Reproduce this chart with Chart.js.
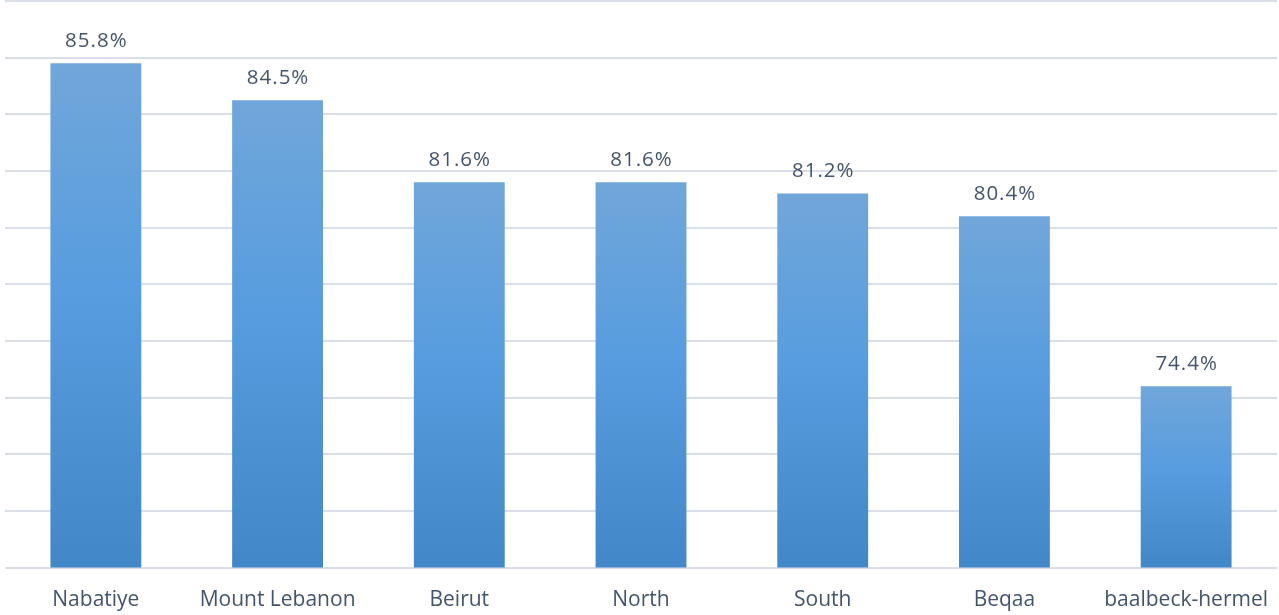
<!DOCTYPE html>
<html>
<head>
<meta charset="utf-8">
<script src="https://cdn.jsdelivr.net/npm/chart.js@4.4.1/dist/chart.umd.min.js"></script>
<style>
    html, body { margin: 0; padding: 0; background: #ffffff; overflow: hidden; }
    canvas { display: block; }
</style>
</head>
<body>
<canvas id="chart" width="1279" height="615"></canvas>
<script>
// Regions and their rates (%)
const regions = ['Nabatiye', 'Mount Lebanon', 'Beirut', 'North', 'South', 'Beqaa', 'baalbeck-hermel'];
const rates = [85.8, 84.5, 81.6, 81.6, 81.2, 80.4, 74.4];

// Value axis range, labels are not shown
const axisMin = 68;
const axisMax = 88;
const axisStep = 2;

const textColor = '#44546a';
const fontFamily = '"Open Sans", "Liberation Sans", sans-serif';

// Each bar gets its own vertical gradient, light on top and deeper at the base
function barGradient(ctx) {

    const chart = ctx.chart;
    const area = chart.chartArea;
    if (!area || ctx.raw === undefined) return '#5b9bd5';

    const y = chart.scales.y;
    const top = y.getPixelForValue(ctx.raw);
    const bottom = y.getPixelForValue(axisMin);

    let gradient = chart.ctx.createLinearGradient(0, top, 0, bottom);
    gradient.addColorStop(0, '#71a6da');
    gradient.addColorStop(0.45, '#579ddf');
    gradient.addColorStop(1, '#4288c8');

    return gradient;

}

// Writes the percentage above each bar
const valueLabels = {
    id: 'valueLabels',
    afterDatasetsDraw(chart) {
        const ctx = chart.ctx;
        const meta = chart.getDatasetMeta(0);
        ctx.save();
        ctx.font = '20.5px ' + fontFamily;
        ctx.letterSpacing = '1px';
        ctx.fillStyle = textColor;
        ctx.textAlign = 'center';
        ctx.textBaseline = 'middle';
        meta.data.forEach((bar, i) => {
            const value = chart.data.datasets[0].data[i];
            ctx.fillText(value.toFixed(1) + '%', bar.x + 0.5, bar.y - 22);
        });
        ctx.restore();
    }
};

new Chart(document.getElementById('chart'), {
    type: 'bar',
    data: {
        labels: regions,
        datasets: [{
            data: rates,
            backgroundColor: barGradient,
            borderWidth: 0,
            categoryPercentage: 0.5,
            barPercentage: 1
        }]
    },
    options: {
        responsive: false,
        animation: false,
        layout: {
            padding: { top: 1, left: 5, right: 2, bottom: 0 }
        },
        plugins: {
            legend: { display: false },
            tooltip: { enabled: false }
        },
        scales: {
            x: {
                grid: { display: false, drawTicks: false },
                border: { display: false },
                ticks: {
                    color: textColor,
                    padding: 20,
                    maxRotation: 0,
                    font: { family: fontFamily, size: 21 }
                },
                // keep the label band tight and let the plot run edge to edge
                afterFit(scale) {
                    scale.height = 47.5;
                    scale.paddingLeft = 0;
                    scale.paddingRight = 0;
                }
            },
            y: {
                min: axisMin,
                max: axisMax,
                grid: { color: '#dadfe7', lineWidth: 2, drawTicks: false },
                border: { display: false },
                ticks: { display: false, stepSize: axisStep }
            }
        }
    },
    plugins: [valueLabels]
});
</script>
</body>
</html>
